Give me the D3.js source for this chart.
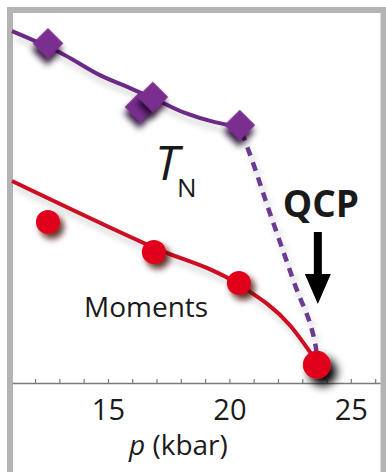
<!DOCTYPE html>
<html>
<head>
<meta charset="utf-8">
<script src="https://cdn.jsdelivr.net/npm/d3@7"></script>
<style>
  html, body { margin: 0; padding: 0; background: #fff; }
  svg { display: block; }
  text { font-family: "Open Sans", "Noto Sans", sans-serif; fill: #1a1a1a; }
</style>
</head>
<body>
<script>
// T_N points (kbar, arbitrary units)
const tnP = [12.53, 16.32, 16.85, 20.43];
const tnV = [91.8, 74.6, 77.3, 69.7];
// T_N guide line, solid part and dashed part
const tnLineP = [11.05, 13.23, 14.67, 15.91, 16.85, 18.17, 19.40, 20.43];
const tnLineV = [95.1, 88.6, 83.2, 79.7, 77.0, 73.0, 70.5, 69.2];
const tnDashP = [20.51, 20.93, 21.58, 22.20, 22.78, 23.30, 23.55, 23.62];
const tnDashV = [67.8, 60.3, 47.6, 35.9, 25.1, 16.5, 10.0, 5.7];
// moments
const momP = [12.53, 16.89, 20.39];
const momV = [43.5, 35.4, 27.0];
const momLineP = [11.05, 16.89, 20.39, 22.49, 23.60];
const momLineV = [54.6, 36.6, 26.6, 15.6, 5.7];
// quantum critical point
const qcpP = 23.60;
const qcpV = 4.9;
// axis
const pTicks = [12, 13, 14, 15, 16, 17, 18, 19, 20, 21, 22, 23, 24, 25, 26];
const pLabels = [15, 20, 25];

const width = 386;
const height = 472;

const svg = d3.select('body')
  .append('svg')
  .attr('width', width)
  .attr('height', height);

const defs = svg.append('defs');

function shadow(id, color, dx, dy, sd, op) {
  defs.append('filter')
    .attr('id', id)
    .attr('x', '-80%').attr('y', '-80%')
    .attr('width', '260%').attr('height', '260%')
    .append('feDropShadow')
    .attr('dx', dx).attr('dy', dy)
    .attr('stdDeviation', sd)
    .attr('flood-color', color)
    .attr('flood-opacity', op);
}
shadow('shPurple', '#1e0626', 4, 5, 3, 0.9);
shadow('shRed', '#4a0800', 4, 5, 3, 0.85);
shadow('shQcp', '#000', 6, 7, 5, 1);
shadow('shLine', '#000', 3, 6, 3, 0.18);

const x = d3.scaleLinear()
  .domain([11.05, 26.2])
  .range([12, 380]);

const y = d3.scaleLinear()
  .domain([0, 100])
  .range([383, 13]);

// frame
svg.append('rect')
  .attr('x', 10).attr('y', 10)
  .attr('width', 373.5).attr('height', 520)
  .attr('fill', 'none')
  .attr('stroke', '#b4b4b4')
  .attr('stroke-width', 6);

const plot = svg.append('g');

// x axis
const axis = plot.append('g')
  .attr('transform', `translate(0,${y(0)})`)
  .call(d3.axisBottom(x)
    .tickValues(pTicks)
    .tickSizeInner(-4)
    .tickSizeOuter(0)
    .tickPadding(16)
    .tickFormat(d => pLabels.includes(d) ? d : ''));

axis.select('.domain').attr('stroke', '#7a7a7a').attr('stroke-width', 1.6);
axis.selectAll('.tick line').attr('stroke', '#7a7a7a').attr('stroke-width', 1.2);
axis.selectAll('.tick text')
  .attr('font-size', 29)
  .attr('font-family', '"Open Sans", sans-serif')
  .attr('fill', '#1a1a1a');

plot.append('text')
  .attr('x', x(17.9))
  .attr('y', 455)
  .attr('text-anchor', 'middle')
  .attr('font-size', 28)
  .call(t => {
    t.append('tspan').attr('font-style', 'italic').text('p');
    t.append('tspan').text(' (kbar)');
  });

const line = d3.line()
  .x(d => x(d[0]))
  .y(d => y(d[1]))
  .curve(d3.curveMonotoneX);

// T_N line
plot.append('path')
  .datum(d3.zip(tnLineP, tnLineV))
  .attr('d', line)
  .attr('fill', 'none')
  .attr('stroke', '#6a2a85')
  .attr('stroke-width', 4)
  .attr('filter', 'url(#shLine)');

plot.append('path')
  .datum(d3.zip(tnDashP, tnDashV))
  .attr('d', line.curve(d3.curveMonotoneY))
  .attr('fill', 'none')
  .attr('stroke', '#6b3a91')
  .attr('stroke-width', 4.5)
  .attr('stroke-dasharray', '9,7')
  .attr('filter', 'url(#shLine)');

// moments line
plot.append('path')
  .datum(d3.zip(momLineP, momLineV))
  .attr('d', line.curve(d3.curveMonotoneX))
  .attr('fill', 'none')
  .attr('stroke', '#cc0a22')
  .attr('stroke-width', 4)
  .attr('filter', 'url(#shLine)');

// T_N diamonds
plot.selectAll('.tn')
  .data(d3.zip(tnP, tnV))
  .join('path')
  .attr('class', 'tn')
  .attr('transform', d => `translate(${x(d[0])},${y(d[1])}) rotate(45)`)
  .attr('d', d3.symbol(d3.symbolSquare, 470))
  .attr('fill', '#7a2d8f')
  .attr('filter', 'url(#shPurple)');

// moment dots
plot.selectAll('.mom')
  .data(d3.zip(momP, momV))
  .join('circle')
  .attr('class', 'mom')
  .attr('cx', d => x(d[0]))
  .attr('cy', d => y(d[1]))
  .attr('r', 12)
  .attr('fill', '#e0001b')
  .attr('filter', 'url(#shRed)');

// QCP dot
plot.append('circle')
  .attr('cx', x(qcpP))
  .attr('cy', y(qcpV))
  .attr('r', 14)
  .attr('fill', '#e0001b')
  .attr('filter', 'url(#shQcp)');

// labels
const tn = plot.append('text')
  .attr('x', 155)
  .attr('y', 180);
tn.append('tspan')
  .attr('font-style', 'italic')
  .attr('font-size', 48)
  .text('T');
tn.append('tspan')
  .attr('font-size', 26)
  .attr('dx', -2)
  .attr('dy', 17)
  .text('N');

plot.append('text')
  .attr('x', x(qcpP) + 4)
  .attr('y', 217)
  .attr('text-anchor', 'middle')
  .attr('font-size', 37)
  .attr('font-weight', 'bold')
  .text('QCP');

plot.append('text')
  .attr('x', 84)
  .attr('y', 317)
  .attr('font-size', 28)
  .text('Moments');

// arrow down to the QCP
const ax = x(qcpP) + 1;
plot.append('path')
  .attr('d', `M${ax - 4},232 L${ax + 4},232 L${ax + 4},274 L${ax + 13},274 L${ax},304 L${ax - 13},274 L${ax - 4},274 Z`)
  .attr('fill', '#000');
</script>
</body>
</html>
